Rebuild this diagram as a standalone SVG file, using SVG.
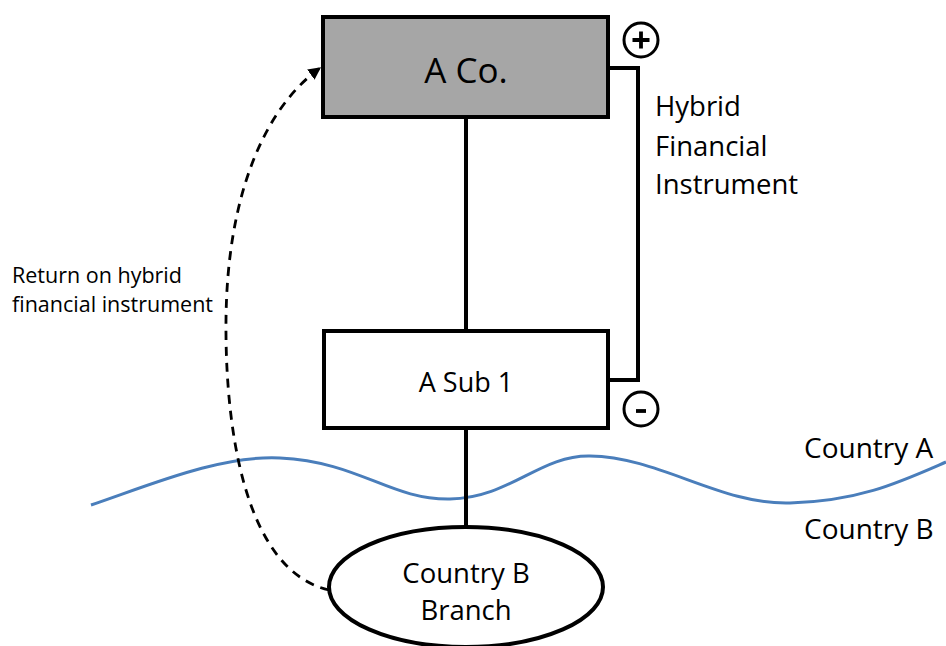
<svg xmlns="http://www.w3.org/2000/svg" width="946" height="646" viewBox="0 0 946 646">
  <style>
    text { font-family: "Open Sans", "Noto Sans", sans-serif; fill: #000; }
    .box { stroke: #000; stroke-width: 4; }
    .line { fill: none; stroke: #000; stroke-width: 4; }
    .dash { fill: none; stroke: #000; stroke-width: 2.8; stroke-dasharray: 9 7; }
    .wave { fill: none; stroke: #4a7ebb; stroke-width: 3; }
    .sign { fill: #fff; stroke: #000; stroke-width: 3; }
    .mark { stroke: #000; stroke-width: 3.8; }
  </style>
  <defs>
    <marker id="arrow" viewBox="0 0 10 10" refX="9" refY="5" markerWidth="4.5" markerHeight="4.5" orient="auto" markerUnits="strokeWidth">
      <path d="M0,0 L10,5 L0,10 z" fill="#000"/>
    </marker>
  </defs>
  <rect width="946" height="646" fill="#fff"/>

  <!-- border between countries -->
  <path class="wave" d="M91,505 C150,485 220,455 280,458 C360,462 390,500 450,499 C510,498 540,455 590,456 C660,457 720,505 790,503 C860,501 900,482 946,462"/>

  <g id="connectors">
    <line class="line" x1="466" y1="117" x2="466" y2="331"/>
    <line class="line" x1="466" y1="428" x2="466" y2="527"/>
    <polyline class="line" points="608,68 638,68 638,380 608,380"/>
    <path class="dash" d="M329,590 C242,570 225,420 226,320 C227,200 262,110 320,68" marker-end="url(#arrow)"/>
  </g>

  <g id="a-co">
    <rect class="box" x="323" y="17" width="285" height="100" fill="#a6a6a6"/>
    <text x="466" y="83" font-size="35" text-anchor="middle">A Co.</text>
  </g>

  <g id="a-sub-1">
    <rect class="box" x="324" y="331" width="284" height="97" fill="#fff"/>
    <text x="466" y="392" font-size="27" text-anchor="middle">A Sub 1</text>
  </g>

  <g id="branch">
    <ellipse class="box" cx="466" cy="587" rx="137" ry="60" fill="#fff"/>
    <text x="466" y="583" font-size="27.5" text-anchor="middle">Country B</text>
    <text x="466" y="620" font-size="27.5" text-anchor="middle">Branch</text>
  </g>

  <g id="plus">
    <circle class="sign" cx="641" cy="40" r="17"/>
    <path class="mark" d="M641,31.5 V48.5 M632.5,40 H649.5"/>
  </g>

  <g id="minus">
    <circle class="sign" cx="641" cy="409" r="17"/>
    <path class="mark" d="M636,411 H646"/>
  </g>

  <g id="labels">
    <text x="655" y="116" font-size="27.5">Hybrid</text>
    <text x="655" y="156" font-size="27.5">Financial</text>
    <text x="655" y="194" font-size="27.5">Instrument</text>
    <text x="12" y="283" font-size="21.5">Return on hybrid</text>
    <text x="12" y="312" font-size="21.5">financial instrument</text>
    <text x="804" y="458" font-size="28">Country A</text>
    <text x="804" y="539" font-size="28">Country B</text>
  </g>
</svg>
